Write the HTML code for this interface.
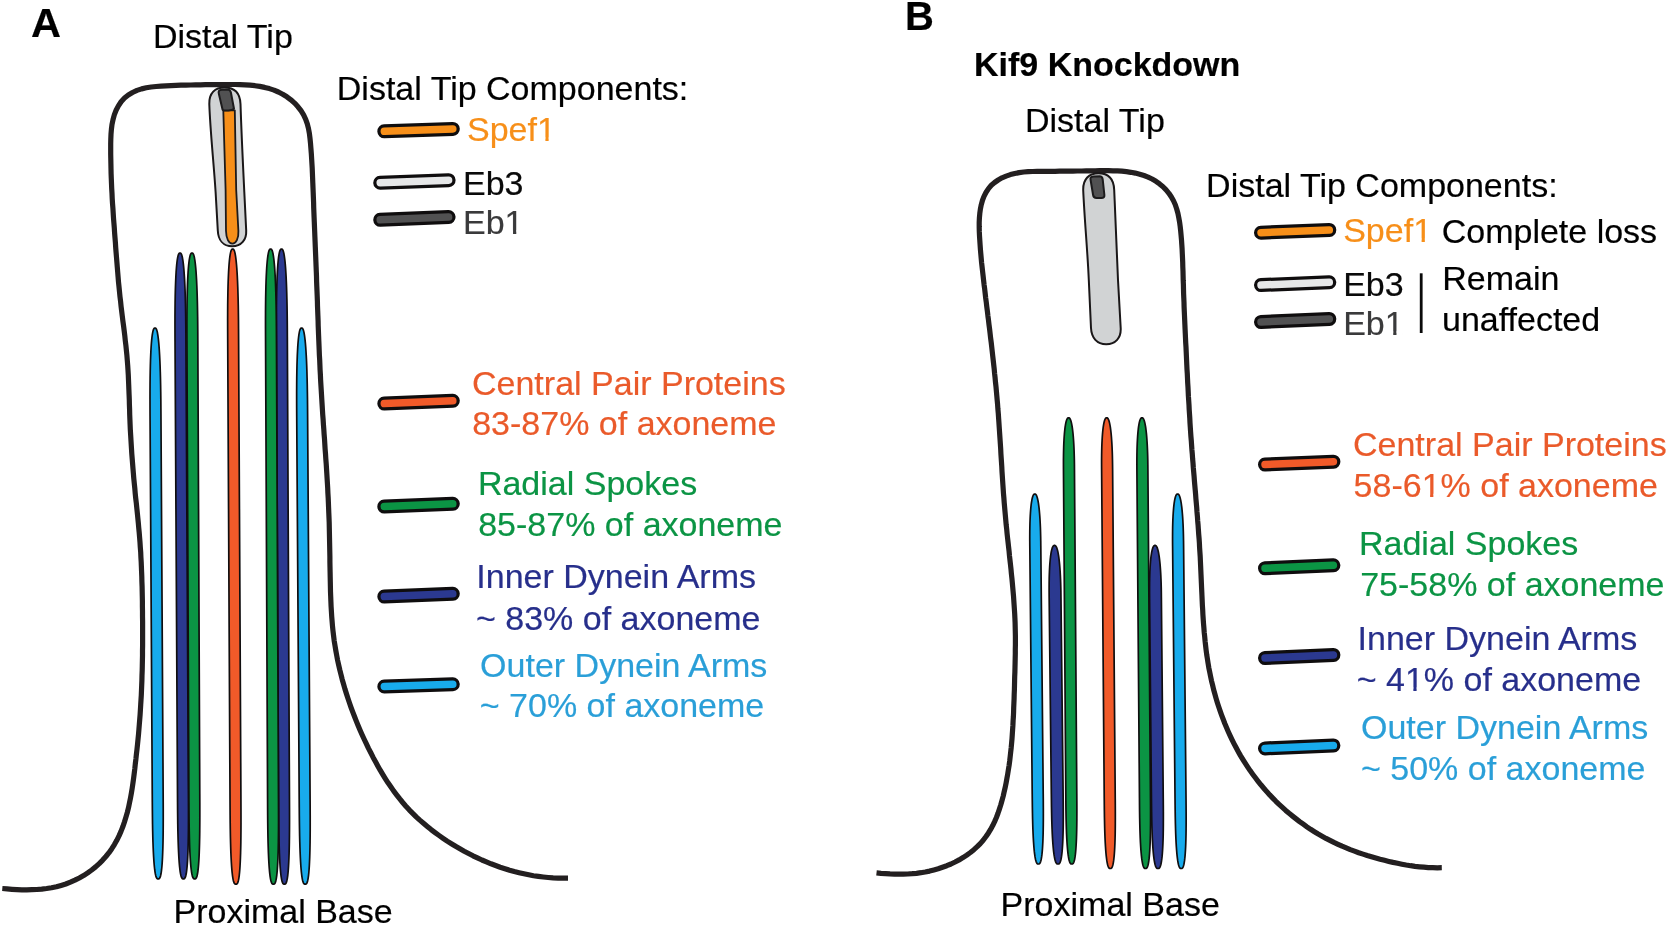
<!DOCTYPE html>
<html><head><meta charset="utf-8"><title>Figure</title>
<style>
html,body{margin:0;padding:0;background:#fff;}
body{width:1671px;height:930px;overflow:hidden;}
svg{display:block;}
text{font-family:"Liberation Sans",sans-serif;}
</style></head>
<body>
<svg width="1671" height="930" viewBox="0 0 1671 930">
<rect width="1671" height="930" fill="#ffffff"/>
<defs><filter id="idf" filterUnits="userSpaceOnUse" x="0" y="0" width="1671" height="930" color-interpolation-filters="sRGB"><feOffset dx="0" dy="0"/></filter></defs>
<g filter="url(#idf)">
<path d="M2.3,888.5 L7.1,888.9 L12.0,889.3 L16.9,889.6 L21.9,889.8 L26.8,889.8 L31.8,889.7 L36.8,889.5 L41.7,889.1 L46.6,888.5 L51.5,887.7 L56.4,886.7 L61.1,885.4 L65.8,884.0 L70.4,882.2 L74.9,880.2 L79.3,878.0 L83.6,875.6 L87.7,872.9 L91.7,870.0 L95.6,866.9 L99.2,863.6 L102.7,860.1 L105.9,856.5 L109.0,852.7 L111.8,848.7 L114.4,844.6 L116.8,840.3 L119.0,835.9 L121.0,831.4 L122.8,826.8 L124.4,822.1 L125.9,817.3 L127.3,812.5 L128.5,807.7 L129.5,802.8 L130.5,797.9 L131.4,793.0 L132.2,788.1 L132.9,783.3 L133.6,778.4 L134.2,773.6 L134.8,768.8 L135.3,763.9 L135.9,759.1 L136.4,754.2 L137.0,749.3 L137.5,744.4 L138.0,739.4 L138.5,734.5 L138.9,729.6 L139.3,724.6 L139.7,719.7 L140.1,714.8 L140.4,709.9 L140.7,704.9 L141.0,700.0 L141.3,695.1 L141.5,690.1 L141.7,685.2 L141.9,680.3 L142.0,675.4 L142.2,670.4 L142.3,665.5 L142.4,660.6 L142.5,655.7 L142.5,650.7 L142.6,645.8 L142.6,640.9 L142.6,636.0 L142.6,631.0 L142.6,626.1 L142.6,621.2 L142.5,616.2 L142.5,611.3 L142.4,606.4 L142.4,601.4 L142.3,596.5 L142.2,591.6 L142.1,586.6 L141.9,581.7 L141.8,576.8 L141.6,571.8 L141.4,566.9 L141.2,562.0 L140.9,557.1 L140.7,552.1 L140.3,547.2 L140.0,542.3 L139.6,537.4 L139.2,532.5 L138.7,527.6 L138.3,522.7 L137.8,517.7 L137.3,512.8 L136.8,507.9 L136.3,503.0 L135.7,498.1 L135.2,493.2 L134.8,488.3 L134.3,483.4 L133.8,478.5 L133.4,473.6 L133.0,468.7 L132.6,463.8 L132.2,458.8 L131.8,453.9 L131.5,449.0 L131.2,444.1 L130.9,439.2 L130.6,434.2 L130.3,429.3 L130.1,424.4 L129.9,419.4 L129.7,414.5 L129.6,409.6 L129.4,404.7 L129.3,399.7 L129.1,394.8 L128.9,389.9 L128.7,384.9 L128.5,380.0 L128.3,375.1 L128.0,370.2 L127.7,365.3 L127.3,360.4 L126.9,355.4 L126.4,350.5 L125.9,345.6 L125.3,340.7 L124.8,335.8 L124.2,330.9 L123.6,326.1 L122.9,321.2 L122.3,316.3 L121.7,311.4 L121.1,306.5 L120.6,301.6 L120.0,296.7 L119.5,291.8 L119.0,286.8 L118.5,281.9 L118.1,277.0 L117.7,272.1 L117.3,267.2 L116.9,262.3 L116.5,257.4 L116.1,252.5 L115.7,247.5 L115.4,242.6 L115.0,237.7 L114.6,232.8 L114.3,227.9 L113.9,222.9 L113.5,218.0 L113.2,213.1 L112.9,208.2 L112.5,203.3 L112.2,198.3 L112.0,193.4 L111.7,188.5 L111.5,183.6 L111.3,178.6 L111.1,173.7 L111.0,168.8 L110.9,163.8 L110.8,158.9 L110.7,154.0 L110.7,149.0 L110.7,144.1 L110.8,139.2 L111.0,134.3 L111.4,129.4 L112.0,124.5 L113.0,119.7 L114.3,114.9 L116.1,110.3 L118.4,105.9 L121.1,101.8 L124.5,98.1 L128.3,95.0 L132.5,92.5 L137.0,90.4 L141.6,88.9 L146.3,87.8 L151.2,87.0 L156.1,86.5 L161.1,86.1 L166.0,85.8 L171.0,85.6 L176.0,85.4 L180.9,85.2 L185.9,85.1 L190.8,85.0 L195.7,84.9 L200.6,84.8 L205.4,84.7 L210.3,84.7 L215.2,84.6 L220.1,84.6 L225.0,84.5 L230.0,84.5 L235.0,84.5 L240.0,84.6 L245.1,84.8 L250.0,85.2 L255.0,85.7 L259.8,86.4 L264.6,87.4 L269.4,88.6 L274.0,90.1 L278.4,92.0 L282.7,94.2 L286.9,96.8 L290.9,99.8 L294.6,103.1 L298.0,106.8 L301.0,110.7 L303.6,114.9 L305.7,119.3 L307.3,123.9 L308.5,128.6 L309.4,133.5 L310.0,138.4 L310.5,143.3 L310.9,148.3 L311.3,153.3 L311.6,158.2 L311.9,163.1 L312.2,168.1 L312.4,173.0 L312.6,177.9 L312.8,182.8 L313.0,187.8 L313.2,192.7 L313.4,197.6 L313.6,202.5 L313.7,207.4 L313.9,212.3 L314.1,217.3 L314.3,222.2 L314.5,227.1 L314.7,232.0 L314.9,237.0 L315.1,241.9 L315.3,246.8 L315.5,251.8 L315.7,256.7 L315.9,261.6 L316.1,266.6 L316.3,271.5 L316.5,276.4 L316.6,281.4 L316.8,286.3 L317.0,291.2 L317.2,296.1 L317.4,301.1 L317.5,306.0 L317.7,310.9 L317.9,315.9 L318.1,320.8 L318.2,325.7 L318.4,330.6 L318.6,335.6 L318.8,340.5 L319.0,345.4 L319.2,350.3 L319.4,355.3 L319.7,360.2 L319.9,365.1 L320.1,370.0 L320.4,375.0 L320.6,379.9 L320.9,384.8 L321.2,389.7 L321.5,394.7 L321.8,399.6 L322.1,404.5 L322.4,409.4 L322.7,414.3 L323.1,419.3 L323.4,424.2 L323.8,429.1 L324.1,434.0 L324.5,438.9 L324.8,443.9 L325.1,448.8 L325.5,453.7 L325.8,458.6 L326.2,463.6 L326.5,468.5 L326.8,473.4 L327.1,478.3 L327.4,483.2 L327.7,488.2 L327.9,493.1 L328.2,498.0 L328.4,502.9 L328.6,507.9 L328.8,512.8 L329.0,517.7 L329.2,522.6 L329.3,527.6 L329.4,532.5 L329.5,537.4 L329.6,542.4 L329.7,547.3 L329.8,552.2 L329.9,557.2 L329.9,562.1 L330.0,567.0 L330.1,571.9 L330.2,576.9 L330.3,581.8 L330.4,586.8 L330.5,591.7 L330.7,596.6 L330.9,601.6 L331.1,606.5 L331.4,611.4 L331.7,616.3 L332.1,621.2 L332.5,626.1 L333.0,631.0 L333.6,635.9 L334.2,640.8 L335.0,645.7 L335.8,650.5 L336.7,655.4 L337.6,660.2 L338.7,665.1 L339.8,669.9 L341.0,674.6 L342.2,679.4 L343.6,684.2 L344.9,688.9 L346.4,693.6 L347.9,698.3 L349.5,703.0 L351.1,707.6 L352.8,712.2 L354.6,716.8 L356.4,721.4 L358.3,726.0 L360.2,730.5 L362.2,735.0 L364.3,739.5 L366.4,743.9 L368.5,748.4 L370.8,752.8 L373.0,757.2 L375.4,761.5 L377.8,765.9 L380.2,770.2 L382.7,774.4 L385.3,778.6 L388.0,782.8 L390.8,786.8 L393.6,790.9 L396.6,794.8 L399.6,798.7 L402.7,802.5 L405.9,806.2 L409.2,809.8 L412.7,813.3 L416.2,816.8 L419.8,820.1 L423.5,823.3 L427.3,826.5 L431.1,829.6 L435.1,832.6 L439.1,835.5 L443.1,838.3 L447.2,841.1 L451.4,843.7 L455.6,846.3 L459.9,848.8 L464.2,851.2 L468.6,853.5 L473.0,855.8 L477.4,857.9 L481.9,860.0 L486.4,861.9 L491.0,863.8 L495.6,865.5 L500.2,867.2 L504.9,868.7 L509.6,870.2 L514.3,871.5 L519.1,872.7 L523.9,873.8 L528.7,874.8 L533.5,875.7 L538.4,876.4 L543.3,877.0 L548.2,877.5 L553.1,877.9 L558.1,878.1 L563.0,878.2 L568.0,878.2" fill="none" stroke="#231f20" stroke-width="5.2" stroke-linecap="butt" stroke-linejoin="round"/>
<path d="M155.00,328.00 L154.48,328.10 L154.05,328.45 L153.65,329.10 L153.27,330.07 L152.91,331.38 L152.57,333.05 L152.24,335.09 L151.93,337.50 L151.64,340.32 L151.37,343.53 L151.12,347.15 L150.89,351.19 L150.69,355.66 L150.50,360.56 L150.35,365.89 L150.22,371.67 L150.12,377.90 L150.05,384.59 L150.01,391.74 L150.00,399.35 L150.02,407.44 L150.06,416.00 L152.26,793.90 L152.31,802.17 L152.37,809.98 L152.45,817.33 L152.54,824.24 L152.66,830.70 L152.80,836.72 L152.97,842.30 L153.16,847.45 L153.37,852.18 L153.60,856.50 L153.85,860.40 L154.12,863.90 L154.41,867.00 L154.71,869.72 L155.04,872.06 L155.39,874.02 L155.75,875.64 L156.14,876.90 L156.56,877.84 L157.00,878.47 L157.51,878.81 L158.20,878.90 L158.89,878.81 L159.39,878.47 L159.83,877.84 L160.24,876.90 L160.61,875.64 L160.96,874.02 L161.28,872.06 L161.58,869.72 L161.86,867.00 L162.11,863.90 L162.34,860.40 L162.54,856.50 L162.72,852.18 L162.88,847.45 L163.01,842.30 L163.10,836.72 L163.18,830.70 L163.22,824.24 L163.24,817.33 L163.23,809.98 L163.20,802.17 L163.16,793.90 L160.96,416.00 L160.90,407.44 L160.83,399.35 L160.73,391.74 L160.61,384.59 L160.46,377.90 L160.29,371.67 L160.09,365.89 L159.87,360.56 L159.63,355.66 L159.38,351.19 L159.10,347.15 L158.81,343.53 L158.50,340.32 L158.18,337.50 L157.84,335.09 L157.49,333.05 L157.13,331.38 L156.75,330.07 L156.36,329.10 L155.95,328.45 L155.52,328.10Z" fill="#18abec" stroke="#100e0f" stroke-width="1.7" stroke-linejoin="round"/>
<path d="M301.60,328.00 L301.08,328.10 L300.65,328.45 L300.25,329.10 L299.87,330.07 L299.51,331.38 L299.17,333.05 L298.85,335.09 L298.54,337.50 L298.25,340.32 L297.98,343.53 L297.73,347.15 L297.51,351.19 L297.30,355.66 L297.13,360.56 L296.97,365.89 L296.85,371.67 L296.75,377.90 L296.69,384.59 L296.65,391.74 L296.65,399.35 L296.67,407.44 L296.72,416.00 L299.20,799.20 L299.26,807.47 L299.32,815.28 L299.40,822.63 L299.51,829.54 L299.63,836.00 L299.78,842.02 L299.95,847.60 L300.14,852.75 L300.35,857.48 L300.58,861.80 L300.83,865.70 L301.11,869.20 L301.40,872.30 L301.71,875.02 L302.04,877.36 L302.38,879.32 L302.75,880.94 L303.14,882.20 L303.55,883.14 L304.00,883.77 L304.51,884.11 L305.20,884.20 L305.89,884.11 L306.39,883.77 L306.83,883.14 L307.23,882.20 L307.61,880.94 L307.95,879.32 L308.27,877.36 L308.57,875.02 L308.85,872.30 L309.10,869.20 L309.33,865.70 L309.53,861.80 L309.71,857.48 L309.86,852.75 L309.98,847.60 L310.08,842.02 L310.15,836.00 L310.19,829.54 L310.20,822.63 L310.19,815.28 L310.15,807.47 L310.10,799.20 L307.62,416.00 L307.56,407.44 L307.48,399.35 L307.37,391.74 L307.25,384.59 L307.09,377.90 L306.92,371.67 L306.72,365.89 L306.50,360.56 L306.25,355.66 L305.99,351.19 L305.71,347.15 L305.42,343.53 L305.11,340.32 L304.78,337.50 L304.45,335.09 L304.10,333.05 L303.73,331.38 L303.36,330.07 L302.96,329.10 L302.55,328.45 L302.12,328.10Z" fill="#18abec" stroke="#100e0f" stroke-width="1.7" stroke-linejoin="round"/>
<path d="M180.00,253.00 L179.48,253.10 L179.05,253.45 L178.65,254.10 L178.27,255.07 L177.91,256.38 L177.56,258.05 L177.24,260.09 L176.93,262.50 L176.64,265.32 L176.37,268.53 L176.11,272.15 L175.88,276.19 L175.68,280.66 L175.49,285.56 L175.33,290.89 L175.20,296.67 L175.10,302.90 L175.03,309.59 L174.98,316.74 L174.97,324.35 L174.99,332.44 L175.03,341.00 L177.49,793.90 L177.54,802.17 L177.59,809.98 L177.67,817.33 L177.76,824.24 L177.88,830.70 L178.02,836.72 L178.18,842.30 L178.37,847.45 L178.58,852.18 L178.80,856.50 L179.05,860.40 L179.32,863.90 L179.61,867.00 L179.92,869.72 L180.24,872.06 L180.59,874.02 L180.95,875.64 L181.34,876.90 L181.76,877.84 L182.20,878.47 L182.71,878.81 L183.40,878.90 L184.09,878.81 L184.59,878.47 L185.03,877.84 L185.44,876.90 L185.81,875.64 L186.16,874.02 L186.48,872.06 L186.78,869.72 L187.06,867.00 L187.31,863.90 L187.55,860.40 L187.75,856.50 L187.93,852.18 L188.09,847.45 L188.22,842.30 L188.32,836.72 L188.40,830.70 L188.44,824.24 L188.46,817.33 L188.46,809.98 L188.43,802.17 L188.39,793.90 L185.93,341.00 L185.88,332.44 L185.80,324.35 L185.71,316.74 L185.59,309.59 L185.44,302.90 L185.27,296.67 L185.08,290.89 L184.86,285.56 L184.62,280.66 L184.37,276.19 L184.09,272.15 L183.80,268.53 L183.50,265.32 L183.17,262.50 L182.84,260.09 L182.49,258.05 L182.13,256.38 L181.75,255.07 L181.36,254.10 L180.95,253.45 L180.52,253.10Z" fill="#2b3990" stroke="#100e0f" stroke-width="1.7" stroke-linejoin="round"/>
<path d="M192.00,253.00 L191.48,253.10 L191.05,253.45 L190.65,254.10 L190.27,255.07 L189.90,256.38 L189.56,258.05 L189.23,260.09 L188.92,262.50 L188.62,265.32 L188.35,268.53 L188.09,272.15 L187.86,276.19 L187.65,280.66 L187.46,285.56 L187.29,290.89 L187.15,296.67 L187.04,302.90 L186.96,309.59 L186.91,316.74 L186.89,324.35 L186.90,332.44 L186.93,341.00 L188.88,793.90 L188.92,802.17 L188.97,809.98 L189.04,817.33 L189.12,824.24 L189.23,830.70 L189.37,836.72 L189.52,842.30 L189.70,847.45 L189.91,852.18 L190.13,856.50 L190.37,860.40 L190.64,863.90 L190.92,867.00 L191.23,869.72 L191.55,872.06 L191.90,874.02 L192.26,875.64 L192.64,876.90 L193.06,877.84 L193.50,878.47 L194.01,878.81 L194.70,878.90 L195.39,878.81 L195.89,878.47 L196.33,877.84 L196.74,876.90 L197.11,875.64 L197.46,874.02 L197.79,872.06 L198.09,869.72 L198.37,867.00 L198.63,863.90 L198.87,860.40 L199.08,856.50 L199.26,852.18 L199.42,847.45 L199.56,842.30 L199.67,836.72 L199.75,830.70 L199.80,824.24 L199.83,817.33 L199.83,809.98 L199.82,802.17 L199.78,793.90 L197.83,341.00 L197.79,332.44 L197.72,324.35 L197.64,316.74 L197.52,309.59 L197.39,302.90 L197.22,296.67 L197.03,290.89 L196.82,285.56 L196.59,280.66 L196.34,276.19 L196.07,272.15 L195.79,268.53 L195.48,265.32 L195.16,262.50 L194.83,260.09 L194.48,258.05 L194.12,256.38 L193.75,255.07 L193.36,254.10 L192.95,253.45 L192.52,253.10Z" fill="#0b9444" stroke="#100e0f" stroke-width="1.7" stroke-linejoin="round"/>
<path d="M281.50,249.00 L280.98,249.10 L280.55,249.45 L280.15,250.10 L279.77,251.07 L279.41,252.38 L279.06,254.05 L278.73,256.09 L278.42,258.50 L278.13,261.32 L277.85,264.53 L277.60,268.15 L277.36,272.19 L277.15,276.66 L276.96,281.56 L276.80,286.89 L276.67,292.67 L276.56,298.90 L276.48,305.59 L276.43,312.74 L276.41,320.35 L276.42,328.44 L276.45,337.00 L278.56,799.20 L278.60,807.47 L278.65,815.28 L278.72,822.63 L278.81,829.54 L278.92,836.00 L279.06,842.02 L279.22,847.60 L279.40,852.75 L279.60,857.48 L279.82,861.80 L280.07,865.70 L280.34,869.20 L280.62,872.30 L280.93,875.02 L281.25,877.36 L281.59,879.32 L281.96,880.94 L282.34,882.20 L282.76,883.14 L283.20,883.77 L283.71,884.11 L284.40,884.20 L285.09,884.11 L285.59,883.77 L286.03,883.14 L286.44,882.20 L286.81,880.94 L287.16,879.32 L287.49,877.36 L287.79,875.02 L288.07,872.30 L288.33,869.20 L288.56,865.70 L288.77,861.80 L288.96,857.48 L289.12,852.75 L289.25,847.60 L289.36,842.02 L289.44,836.00 L289.49,829.54 L289.52,822.63 L289.52,815.28 L289.50,807.47 L289.46,799.20 L287.35,337.00 L287.31,328.44 L287.24,320.35 L287.15,312.74 L287.04,305.59 L286.90,298.90 L286.73,292.67 L286.54,286.89 L286.33,281.56 L286.10,276.66 L285.85,272.19 L285.58,268.15 L285.29,264.53 L284.99,261.32 L284.67,258.50 L284.33,256.09 L283.99,254.05 L283.63,252.38 L283.25,251.07 L282.86,250.10 L282.45,249.45 L282.02,249.10Z" fill="#2b3990" stroke="#100e0f" stroke-width="1.7" stroke-linejoin="round"/>
<path d="M270.60,249.00 L270.08,249.10 L269.65,249.45 L269.25,250.10 L268.87,251.07 L268.50,252.38 L268.16,254.05 L267.83,256.09 L267.52,258.50 L267.23,261.32 L266.95,264.53 L266.69,268.15 L266.46,272.19 L266.25,276.66 L266.06,281.56 L265.90,286.89 L265.76,292.67 L265.65,298.90 L265.57,305.59 L265.52,312.74 L265.50,320.35 L265.51,328.44 L265.54,337.00 L267.58,799.20 L267.61,807.47 L267.66,815.28 L267.73,822.63 L267.82,829.54 L267.93,836.00 L268.06,842.02 L268.22,847.60 L268.40,852.75 L268.60,857.48 L268.83,861.80 L269.07,865.70 L269.34,869.20 L269.62,872.30 L269.93,875.02 L270.25,877.36 L270.59,879.32 L270.96,880.94 L271.34,882.20 L271.76,883.14 L272.20,883.77 L272.71,884.11 L273.40,884.20 L274.09,884.11 L274.59,883.77 L275.03,883.14 L275.44,882.20 L275.81,880.94 L276.16,879.32 L276.49,877.36 L276.79,875.02 L277.07,872.30 L277.33,869.20 L277.56,865.70 L277.77,861.80 L277.96,857.48 L278.12,852.75 L278.26,847.60 L278.36,842.02 L278.44,836.00 L278.50,829.54 L278.53,822.63 L278.53,815.28 L278.51,807.47 L278.48,799.20 L276.44,337.00 L276.39,328.44 L276.33,320.35 L276.24,312.74 L276.13,305.59 L275.99,298.90 L275.83,292.67 L275.64,286.89 L275.43,281.56 L275.20,276.66 L274.94,272.19 L274.67,268.15 L274.39,264.53 L274.08,261.32 L273.76,258.50 L273.43,256.09 L273.09,254.05 L272.72,252.38 L272.35,251.07 L271.96,250.10 L271.55,249.45 L271.12,249.10Z" fill="#0b9444" stroke="#100e0f" stroke-width="1.7" stroke-linejoin="round"/>
<path d="M232.70,249.00 L232.18,249.10 L231.75,249.45 L231.35,250.10 L230.97,251.07 L230.61,252.38 L230.26,254.05 L229.94,256.09 L229.62,258.50 L229.33,261.32 L229.06,264.53 L228.81,268.15 L228.57,272.19 L228.37,276.66 L228.18,281.56 L228.02,286.89 L227.89,292.67 L227.78,298.90 L227.70,305.59 L227.66,312.74 L227.64,320.35 L227.66,328.44 L227.69,337.00 L230.02,799.20 L230.07,807.47 L230.12,815.28 L230.19,822.63 L230.29,829.54 L230.40,836.00 L230.54,842.02 L230.70,847.60 L230.88,852.75 L231.09,857.48 L231.31,861.80 L231.56,865.70 L231.83,869.20 L232.12,872.30 L232.42,875.02 L232.75,877.36 L233.09,879.32 L233.46,880.94 L233.84,882.20 L234.26,883.14 L234.70,883.77 L235.21,884.11 L235.90,884.20 L236.59,884.11 L237.09,883.77 L237.53,883.14 L237.94,882.20 L238.31,880.94 L238.66,879.32 L238.98,877.36 L239.29,875.02 L239.56,872.30 L239.82,869.20 L240.05,865.70 L240.26,861.80 L240.44,857.48 L240.60,852.75 L240.73,847.60 L240.84,842.02 L240.91,836.00 L240.96,829.54 L240.99,822.63 L240.98,815.28 L240.96,807.47 L240.92,799.20 L238.59,337.00 L238.54,328.44 L238.48,320.35 L238.38,312.74 L238.27,305.59 L238.12,298.90 L237.95,292.67 L237.76,286.89 L237.55,281.56 L237.31,276.66 L237.06,272.19 L236.79,268.15 L236.50,264.53 L236.19,261.32 L235.87,258.50 L235.54,256.09 L235.19,254.05 L234.83,252.38 L234.45,251.07 L234.06,250.10 L233.65,249.45 L233.22,249.10Z" fill="#f15a29" stroke="#100e0f" stroke-width="1.7" stroke-linejoin="round"/>
<path d="M209.3,104 C209,93 215,87.6 224.5,87.6 C234,87.6 240,93 240.5,104 C241.5,135 243,165 244.3,192 L246.2,230.5 C246.7,240 241.2,246.3 232.2,246.3 C223.2,246.3 218.2,240 217.8,230.5 L215.6,192 C213.5,160 210.3,132 209.3,104 Z" fill="#d1d3d4" stroke="#1a1718" stroke-width="2.0"/>
<path d="M223.3,110.3 L234.8,110.3 L236.2,190 L238.4,231 C238.8,238.5 236,243.6 232.4,243.6 C228.7,243.6 226.2,238.5 226,231 L225.6,190 Z" fill="#f78f19" stroke="#1d1a1b" stroke-width="1.8" stroke-linejoin="round"/>
<path d="M218.9,94 C218.0,91 219.1,89.9 221.8,89.7 L227.5,89.4 C229.6,89.4 230.4,90.3 230.9,92.5 L234,108.7 C232,110.6 225,111.2 222.6,109.8 Z" fill="#515152" stroke="#1c1b1c" stroke-width="2.0" stroke-linejoin="round"/>
<line x1="384.3" y1="131.3" x2="452.8" y2="128.9" stroke="#0f0d0e" stroke-width="14.0" stroke-linecap="round"/><line x1="384.3" y1="131.3" x2="452.8" y2="128.9" stroke="#f78f19" stroke-width="7.5" stroke-linecap="round"/>
<line x1="380.2" y1="182.7" x2="448.6" y2="180.2" stroke="#0f0d0e" stroke-width="14.0" stroke-linecap="round"/><line x1="380.2" y1="182.7" x2="448.6" y2="180.2" stroke="#e6e7e8" stroke-width="7.5" stroke-linecap="round"/>
<line x1="380.2" y1="219.8" x2="448.6" y2="217.1" stroke="#0f0d0e" stroke-width="14.0" stroke-linecap="round"/><line x1="380.2" y1="219.8" x2="448.6" y2="217.1" stroke="#515152" stroke-width="7.5" stroke-linecap="round"/>
<line x1="384.3" y1="403.5" x2="452.8" y2="400.8" stroke="#0f0d0e" stroke-width="14.0" stroke-linecap="round"/><line x1="384.3" y1="403.5" x2="452.8" y2="400.8" stroke="#f15a29" stroke-width="7.5" stroke-linecap="round"/>
<line x1="384.3" y1="506.5" x2="452.8" y2="503.8" stroke="#0f0d0e" stroke-width="14.0" stroke-linecap="round"/><line x1="384.3" y1="506.5" x2="452.8" y2="503.8" stroke="#0b9444" stroke-width="7.5" stroke-linecap="round"/>
<line x1="384.3" y1="596.5" x2="452.8" y2="593.8" stroke="#0f0d0e" stroke-width="14.0" stroke-linecap="round"/><line x1="384.3" y1="596.5" x2="452.8" y2="593.8" stroke="#2b3990" stroke-width="7.5" stroke-linecap="round"/>
<line x1="384.3" y1="686.5" x2="452.8" y2="684.3" stroke="#0f0d0e" stroke-width="14.0" stroke-linecap="round"/><line x1="384.3" y1="686.5" x2="452.8" y2="684.3" stroke="#18abec" stroke-width="7.5" stroke-linecap="round"/>
<text x="30.9" y="37.1" fill="#000" stroke="#000" stroke-width="0.2" font-weight="700" font-size="41.5">A</text>
<text x="153" y="48.3" fill="#000" stroke="#000" stroke-width="0.2" font-weight="400" font-size="34">Distal Tip</text>
<text x="336.8" y="100" fill="#000" stroke="#000" stroke-width="0.2" font-weight="400" font-size="34">Distal Tip Components:</text>
<text x="467" y="141" fill="#f78f19" stroke="#f78f19" stroke-width="0.2" font-weight="400" font-size="34">Spef1</text>
<text x="463" y="194.8" fill="#0a0a0a" stroke="#0a0a0a" stroke-width="0.2" font-weight="400" font-size="34">Eb3</text>
<text x="463" y="234" fill="#3a3a3b" stroke="#3a3a3b" stroke-width="0.2" font-weight="400" font-size="34">Eb1</text>
<text x="472" y="394.6" fill="#ea5a2a" stroke="#ea5a2a" stroke-width="0.2" font-weight="400" font-size="34">Central Pair Proteins</text>
<text x="472.2" y="435.4" fill="#ea5a2a" stroke="#ea5a2a" stroke-width="0.2" font-weight="400" font-size="34">83-87% of axoneme</text>
<text x="477.9" y="494.6" fill="#0b9444" stroke="#0b9444" stroke-width="0.2" font-weight="400" font-size="34">Radial Spokes</text>
<text x="478.2" y="535.6" fill="#0b9444" stroke="#0b9444" stroke-width="0.2" font-weight="400" font-size="34">85-87% of axoneme</text>
<text x="476.3" y="588.4" fill="#272f8b" stroke="#272f8b" stroke-width="0.2" font-weight="400" font-size="34">Inner Dynein Arms</text>
<text x="476" y="629.5" fill="#272f8b" stroke="#272f8b" stroke-width="0.2" font-weight="400" font-size="34">~ 83% of axoneme</text>
<text x="480.1" y="676.7" fill="#2a9fd8" stroke="#2a9fd8" stroke-width="0.2" font-weight="400" font-size="34">Outer Dynein Arms</text>
<text x="479.8" y="717.1" fill="#2a9fd8" stroke="#2a9fd8" stroke-width="0.2" font-weight="400" font-size="34">~ 70% of axoneme</text>
<text x="173.5" y="922.6" fill="#000" stroke="#000" stroke-width="0.2" font-weight="400" font-size="34">Proximal Base</text>
<path d="M876.5,872.8 L881.0,873.3 L885.5,873.6 L890.0,873.9 L894.5,874.1 L898.9,874.2 L903.3,874.1 L907.7,874.0 L912.1,873.7 L916.5,873.3 L920.9,872.7 L925.2,872.0 L929.6,871.1 L933.9,870.0 L938.2,868.8 L942.5,867.3 L946.8,865.7 L951.0,864.0 L955.1,862.0 L959.1,859.9 L963.0,857.6 L966.8,855.1 L970.4,852.5 L973.9,849.7 L977.2,846.7 L980.3,843.6 L983.2,840.3 L985.8,836.8 L988.3,833.2 L990.6,829.4 L992.7,825.6 L994.6,821.6 L996.4,817.5 L998.0,813.3 L999.4,809.1 L1000.8,804.8 L1002.0,800.5 L1003.2,796.1 L1004.2,791.7 L1005.2,787.3 L1006.1,782.9 L1006.9,778.5 L1007.7,774.1 L1008.4,769.7 L1009.1,765.3 L1009.7,760.9 L1010.2,756.5 L1010.7,752.0 L1011.2,747.6 L1011.6,743.2 L1012.0,738.7 L1012.3,734.3 L1012.6,729.8 L1012.9,725.4 L1013.1,720.9 L1013.4,716.5 L1013.6,712.0 L1013.7,707.6 L1013.9,703.1 L1014.1,698.6 L1014.2,694.2 L1014.4,689.7 L1014.5,685.2 L1014.6,680.8 L1014.7,676.3 L1014.9,671.8 L1015.0,667.3 L1015.1,662.9 L1015.2,658.4 L1015.3,653.9 L1015.3,649.5 L1015.4,645.0 L1015.4,640.5 L1015.4,636.1 L1015.3,631.6 L1015.2,627.1 L1015.1,622.7 L1014.9,618.2 L1014.7,613.8 L1014.4,609.3 L1014.1,604.8 L1013.8,600.4 L1013.5,595.9 L1013.1,591.5 L1012.7,587.1 L1012.3,582.6 L1011.9,578.2 L1011.4,573.7 L1011.0,569.3 L1010.5,564.8 L1010.0,560.4 L1009.5,556.0 L1009.1,551.5 L1008.6,547.1 L1008.1,542.6 L1007.6,538.2 L1007.1,533.7 L1006.7,529.3 L1006.2,524.9 L1005.8,520.4 L1005.4,516.0 L1005.0,511.5 L1004.6,507.1 L1004.2,502.6 L1003.9,498.2 L1003.5,493.7 L1003.2,489.3 L1002.9,484.8 L1002.6,480.4 L1002.3,475.9 L1002.0,471.4 L1001.8,467.0 L1001.5,462.5 L1001.2,458.1 L1000.9,453.6 L1000.7,449.2 L1000.4,444.7 L1000.1,440.2 L999.8,435.8 L999.5,431.3 L999.2,426.9 L998.9,422.4 L998.6,418.0 L998.3,413.5 L997.9,409.1 L997.6,404.6 L997.2,400.2 L996.8,395.7 L996.4,391.3 L996.0,386.8 L995.5,382.4 L995.1,377.9 L994.6,373.5 L994.2,369.0 L993.7,364.6 L993.2,360.1 L992.7,355.7 L992.2,351.3 L991.7,346.8 L991.2,342.4 L990.6,337.9 L990.1,333.5 L989.6,329.1 L989.0,324.6 L988.5,320.2 L987.9,315.8 L987.4,311.4 L986.8,306.9 L986.3,302.5 L985.7,298.1 L985.2,293.6 L984.7,289.2 L984.1,284.8 L983.6,280.4 L983.1,275.9 L982.6,271.5 L982.1,267.1 L981.6,262.7 L981.2,258.2 L980.8,253.8 L980.4,249.3 L980.1,244.8 L979.8,240.4 L979.5,235.9 L979.3,231.4 L979.2,226.9 L979.2,222.4 L979.4,217.9 L979.8,213.4 L980.4,209.0 L981.3,204.6 L982.5,200.2 L984.1,196.1 L986.1,192.2 L988.5,188.6 L991.3,185.3 L994.6,182.5 L998.2,180.0 L1002.0,177.8 L1006.1,176.1 L1010.4,174.6 L1014.8,173.5 L1019.2,172.6 L1023.7,172.0 L1028.2,171.7 L1032.6,171.5 L1037.1,171.4 L1041.6,171.3 L1046.1,171.3 L1050.6,171.3 L1055.0,171.3 L1059.5,171.2 L1064.0,171.2 L1068.4,171.1 L1072.9,171.1 L1077.3,171.0 L1081.8,171.0 L1086.2,170.9 L1090.7,170.9 L1095.1,170.8 L1099.6,170.7 L1104.1,170.7 L1108.5,170.7 L1113.0,170.8 L1117.4,170.9 L1121.9,171.2 L1126.4,171.7 L1130.8,172.3 L1135.3,173.1 L1139.7,174.2 L1144.0,175.5 L1148.1,177.1 L1152.1,179.0 L1156.0,181.3 L1159.6,183.9 L1163.0,186.7 L1166.1,189.9 L1168.9,193.3 L1171.4,197.0 L1173.5,200.8 L1175.3,204.8 L1176.7,209.0 L1177.9,213.3 L1178.8,217.7 L1179.6,222.2 L1180.2,226.6 L1180.7,231.1 L1181.1,235.6 L1181.5,240.1 L1181.8,244.5 L1182.1,249.0 L1182.3,253.5 L1182.5,257.9 L1182.7,262.4 L1182.8,266.8 L1183.0,271.3 L1183.1,275.7 L1183.2,280.2 L1183.4,284.6 L1183.5,289.1 L1183.6,293.6 L1183.8,298.0 L1184.0,302.5 L1184.1,306.9 L1184.3,311.4 L1184.5,315.9 L1184.7,320.3 L1184.9,324.8 L1185.1,329.3 L1185.3,333.7 L1185.5,338.2 L1185.7,342.6 L1186.0,347.1 L1186.2,351.6 L1186.4,356.0 L1186.6,360.5 L1186.8,365.0 L1187.0,369.4 L1187.3,373.9 L1187.5,378.4 L1187.7,382.8 L1188.0,387.3 L1188.2,391.7 L1188.4,396.2 L1188.7,400.7 L1189.0,405.1 L1189.2,409.6 L1189.5,414.0 L1189.8,418.5 L1190.0,422.9 L1190.3,427.4 L1190.6,431.9 L1190.9,436.3 L1191.3,440.8 L1191.6,445.2 L1191.9,449.7 L1192.3,454.1 L1192.6,458.6 L1193.0,463.0 L1193.3,467.5 L1193.7,471.9 L1194.1,476.4 L1194.4,480.8 L1194.8,485.3 L1195.2,489.7 L1195.6,494.2 L1195.9,498.6 L1196.3,503.1 L1196.7,507.5 L1197.0,512.0 L1197.4,516.4 L1197.7,520.9 L1198.1,525.3 L1198.4,529.8 L1198.7,534.2 L1199.1,538.7 L1199.4,543.1 L1199.6,547.6 L1199.9,552.1 L1200.2,556.5 L1200.4,561.0 L1200.6,565.4 L1200.8,569.9 L1201.0,574.4 L1201.2,578.8 L1201.4,583.3 L1201.6,587.8 L1201.8,592.2 L1202.0,596.7 L1202.2,601.2 L1202.4,605.6 L1202.7,610.1 L1202.9,614.5 L1203.2,619.0 L1203.5,623.4 L1203.9,627.9 L1204.2,632.3 L1204.7,636.8 L1205.1,641.2 L1205.6,645.6 L1206.1,650.0 L1206.7,654.5 L1207.4,658.9 L1208.1,663.3 L1208.8,667.7 L1209.7,672.0 L1210.6,676.4 L1211.5,680.8 L1212.6,685.1 L1213.6,689.5 L1214.8,693.8 L1216.0,698.1 L1217.3,702.4 L1218.7,706.7 L1220.1,710.9 L1221.6,715.1 L1223.2,719.3 L1224.8,723.5 L1226.5,727.6 L1228.3,731.7 L1230.2,735.8 L1232.1,739.8 L1234.1,743.8 L1236.2,747.8 L1238.3,751.7 L1240.5,755.6 L1242.8,759.4 L1245.2,763.2 L1247.6,766.9 L1250.1,770.6 L1252.7,774.2 L1255.4,777.8 L1258.1,781.3 L1260.9,784.8 L1263.8,788.2 L1266.7,791.6 L1269.7,794.9 L1272.8,798.1 L1275.9,801.3 L1279.1,804.4 L1282.4,807.4 L1285.7,810.4 L1289.1,813.3 L1292.6,816.1 L1296.1,818.9 L1299.6,821.6 L1303.3,824.2 L1306.9,826.8 L1310.6,829.3 L1314.4,831.7 L1318.2,834.0 L1322.1,836.2 L1326.0,838.4 L1329.9,840.4 L1333.9,842.4 L1338.0,844.3 L1342.1,846.2 L1346.2,847.9 L1350.3,849.6 L1354.5,851.1 L1358.7,852.7 L1363.0,854.1 L1367.2,855.5 L1371.5,856.8 L1375.8,858.0 L1380.1,859.2 L1384.5,860.3 L1388.8,861.4 L1393.1,862.4 L1397.5,863.3 L1401.9,864.2 L1406.2,865.0 L1410.6,865.7 L1415.0,866.3 L1419.5,866.8 L1423.9,867.2 L1428.3,867.6 L1432.8,867.7 L1437.3,867.8 L1441.8,867.7" fill="none" stroke="#231f20" stroke-width="5.2" stroke-linecap="butt" stroke-linejoin="round"/>
<path d="M1034.80,494.00 L1034.39,494.06 L1034.01,494.27 L1033.64,494.65 L1033.28,495.22 L1032.93,496.00 L1032.59,496.98 L1032.26,498.19 L1031.95,499.62 L1031.65,501.28 L1031.36,503.18 L1031.09,505.32 L1030.85,507.70 L1030.62,510.34 L1030.41,513.24 L1030.23,516.39 L1030.08,519.81 L1029.95,523.49 L1029.86,527.44 L1029.79,531.66 L1029.76,536.16 L1029.77,540.94 L1029.81,546.00 L1032.22,794.00 L1032.29,800.81 L1032.37,807.24 L1032.47,813.30 L1032.59,818.98 L1032.73,824.30 L1032.90,829.26 L1033.09,833.86 L1033.30,838.10 L1033.53,842.00 L1033.78,845.55 L1034.05,848.77 L1034.33,851.65 L1034.64,854.20 L1034.96,856.44 L1035.30,858.36 L1035.65,859.98 L1036.03,861.31 L1036.42,862.35 L1036.83,863.13 L1037.27,863.64 L1037.76,863.92 L1038.40,864.00 L1039.04,863.92 L1039.52,863.64 L1039.95,863.13 L1040.35,862.35 L1040.72,861.31 L1041.07,859.98 L1041.39,858.36 L1041.69,856.44 L1041.97,854.20 L1042.23,851.65 L1042.46,848.77 L1042.66,845.55 L1042.85,842.00 L1043.00,838.10 L1043.13,833.86 L1043.22,829.26 L1043.29,824.30 L1043.33,818.98 L1043.34,813.30 L1043.32,807.24 L1043.28,800.81 L1043.22,794.00 L1040.81,546.00 L1040.75,540.94 L1040.66,536.16 L1040.54,531.66 L1040.40,527.44 L1040.22,523.49 L1040.02,519.81 L1039.80,516.39 L1039.56,513.24 L1039.30,510.34 L1039.02,507.70 L1038.73,505.32 L1038.42,503.18 L1038.10,501.28 L1037.76,499.62 L1037.42,498.19 L1037.07,496.98 L1036.71,496.00 L1036.35,495.22 L1035.98,494.65 L1035.60,494.27 L1035.21,494.06Z" fill="#18abec" stroke="#100e0f" stroke-width="1.7" stroke-linejoin="round"/>
<path d="M1177.60,494.00 L1177.19,494.06 L1176.81,494.27 L1176.44,494.65 L1176.08,495.22 L1175.73,496.00 L1175.39,496.98 L1175.06,498.19 L1174.74,499.62 L1174.44,501.28 L1174.16,503.18 L1173.89,505.32 L1173.64,507.70 L1173.42,510.34 L1173.21,513.24 L1173.03,516.39 L1172.87,519.81 L1172.75,523.49 L1172.65,527.44 L1172.59,531.66 L1172.56,536.16 L1172.56,540.94 L1172.60,546.00 L1175.03,798.50 L1175.10,805.31 L1175.18,811.74 L1175.28,817.80 L1175.40,823.48 L1175.54,828.80 L1175.70,833.76 L1175.89,838.36 L1176.10,842.60 L1176.33,846.50 L1176.58,850.05 L1176.85,853.27 L1177.14,856.15 L1177.44,858.70 L1177.76,860.94 L1178.10,862.86 L1178.45,864.48 L1178.83,865.81 L1179.22,866.85 L1179.63,867.63 L1180.07,868.14 L1180.56,868.42 L1181.20,868.50 L1181.84,868.42 L1182.32,868.14 L1182.75,867.63 L1183.15,866.85 L1183.52,865.81 L1183.87,864.48 L1184.19,862.86 L1184.49,860.94 L1184.77,858.70 L1185.03,856.15 L1185.26,853.27 L1185.47,850.05 L1185.65,846.50 L1185.80,842.60 L1185.93,838.36 L1186.03,833.76 L1186.10,828.80 L1186.14,823.48 L1186.15,817.80 L1186.13,811.74 L1186.09,805.31 L1186.03,798.50 L1183.60,546.00 L1183.54,540.94 L1183.45,536.16 L1183.34,531.66 L1183.19,527.44 L1183.02,523.49 L1182.82,519.81 L1182.60,516.39 L1182.36,513.24 L1182.10,510.34 L1181.82,507.70 L1181.52,505.32 L1181.22,503.18 L1180.90,501.28 L1180.56,499.62 L1180.22,498.19 L1179.87,496.98 L1179.51,496.00 L1179.15,495.22 L1178.78,494.65 L1178.40,494.27 L1178.01,494.06Z" fill="#18abec" stroke="#100e0f" stroke-width="1.7" stroke-linejoin="round"/>
<path d="M1054.50,545.40 L1054.06,545.46 L1053.65,545.67 L1053.25,546.05 L1052.87,546.62 L1052.49,547.40 L1052.13,548.38 L1051.78,549.59 L1051.44,551.02 L1051.12,552.68 L1050.82,554.58 L1050.53,556.72 L1050.27,559.10 L1050.02,561.74 L1049.80,564.64 L1049.61,567.79 L1049.45,571.21 L1049.31,574.89 L1049.21,578.84 L1049.15,583.06 L1049.12,587.56 L1049.13,592.34 L1049.17,597.40 L1051.33,794.00 L1051.41,800.81 L1051.50,807.24 L1051.61,813.30 L1051.74,818.98 L1051.90,824.30 L1052.08,829.26 L1052.28,833.86 L1052.51,838.10 L1052.76,842.00 L1053.03,845.55 L1053.32,848.77 L1053.63,851.65 L1053.96,854.20 L1054.31,856.44 L1054.67,858.36 L1055.05,859.98 L1055.45,861.31 L1055.87,862.35 L1056.32,863.13 L1056.79,863.64 L1057.31,863.92 L1058.00,864.00 L1058.69,863.92 L1059.20,863.64 L1059.66,863.13 L1060.09,862.35 L1060.49,861.31 L1060.86,859.98 L1061.21,858.36 L1061.53,856.44 L1061.82,854.20 L1062.10,851.65 L1062.34,848.77 L1062.56,845.55 L1062.76,842.00 L1062.92,838.10 L1063.05,833.86 L1063.16,829.26 L1063.23,824.30 L1063.27,818.98 L1063.27,813.30 L1063.25,807.24 L1063.20,800.81 L1063.13,794.00 L1060.97,597.40 L1060.90,592.34 L1060.81,587.56 L1060.68,583.06 L1060.52,578.84 L1060.33,574.89 L1060.12,571.21 L1059.88,567.79 L1059.62,564.64 L1059.34,561.74 L1059.04,559.10 L1058.72,556.72 L1058.39,554.58 L1058.04,552.68 L1057.68,551.02 L1057.32,549.59 L1056.94,548.38 L1056.55,547.40 L1056.16,546.62 L1055.76,546.05 L1055.36,545.67 L1054.94,545.46Z" fill="#2b3990" stroke="#100e0f" stroke-width="1.7" stroke-linejoin="round"/>
<path d="M1068.60,417.80 L1068.19,417.86 L1067.81,418.07 L1067.43,418.45 L1067.07,419.02 L1066.72,419.80 L1066.38,420.78 L1066.05,421.99 L1065.73,423.42 L1065.43,425.08 L1065.14,426.98 L1064.87,429.12 L1064.61,431.50 L1064.38,434.14 L1064.16,437.04 L1063.97,440.19 L1063.81,443.61 L1063.68,447.29 L1063.57,451.24 L1063.50,455.46 L1063.45,459.96 L1063.45,464.74 L1063.47,469.80 L1065.80,794.00 L1065.85,800.81 L1065.92,807.24 L1066.00,813.30 L1066.11,818.98 L1066.24,824.30 L1066.39,829.26 L1066.56,833.86 L1066.76,838.10 L1066.98,842.00 L1067.22,845.55 L1067.49,848.77 L1067.77,851.65 L1068.06,854.20 L1068.38,856.44 L1068.71,858.36 L1069.06,859.98 L1069.43,861.31 L1069.82,862.35 L1070.23,863.13 L1070.67,863.64 L1071.16,863.92 L1071.80,864.00 L1072.44,863.92 L1072.92,863.64 L1073.35,863.13 L1073.75,862.35 L1074.13,861.31 L1074.48,859.98 L1074.81,858.36 L1075.11,856.44 L1075.40,854.20 L1075.66,851.65 L1075.90,848.77 L1076.11,845.55 L1076.30,842.00 L1076.47,838.10 L1076.60,833.86 L1076.71,829.26 L1076.80,824.30 L1076.85,818.98 L1076.87,813.30 L1076.87,807.24 L1076.84,800.81 L1076.80,794.00 L1074.47,469.80 L1074.43,464.74 L1074.35,459.96 L1074.24,455.46 L1074.11,451.24 L1073.95,447.29 L1073.76,443.61 L1073.55,440.19 L1073.31,437.04 L1073.06,434.14 L1072.79,431.50 L1072.50,429.12 L1072.19,426.98 L1071.88,425.08 L1071.55,423.42 L1071.21,421.99 L1070.86,420.78 L1070.51,419.80 L1070.15,419.02 L1069.78,418.45 L1069.40,418.07 L1069.01,417.86Z" fill="#0b9444" stroke="#100e0f" stroke-width="1.7" stroke-linejoin="round"/>
<path d="M1142.00,417.80 L1141.59,417.86 L1141.21,418.07 L1140.83,418.45 L1140.47,419.02 L1140.12,419.80 L1139.78,420.78 L1139.45,421.99 L1139.13,423.42 L1138.83,425.08 L1138.54,426.98 L1138.27,429.12 L1138.02,431.50 L1137.79,434.14 L1137.58,437.04 L1137.39,440.19 L1137.23,443.61 L1137.09,447.29 L1136.99,451.24 L1136.92,455.46 L1136.88,459.96 L1136.88,464.74 L1136.90,469.80 L1139.46,798.50 L1139.51,805.31 L1139.58,811.74 L1139.67,817.80 L1139.78,823.48 L1139.91,828.80 L1140.07,833.76 L1140.25,838.36 L1140.45,842.60 L1140.67,846.50 L1140.91,850.05 L1141.18,853.27 L1141.46,856.15 L1141.76,858.70 L1142.08,860.94 L1142.41,862.86 L1142.76,864.48 L1143.13,865.81 L1143.52,866.85 L1143.93,867.63 L1144.37,868.14 L1144.86,868.42 L1145.50,868.50 L1146.14,868.42 L1146.62,868.14 L1147.05,867.63 L1147.45,866.85 L1147.83,865.81 L1148.18,864.48 L1148.50,862.86 L1148.81,860.94 L1149.09,858.70 L1149.35,856.15 L1149.59,853.27 L1149.80,850.05 L1149.99,846.50 L1150.15,842.60 L1150.29,838.36 L1150.39,833.76 L1150.47,828.80 L1150.52,823.48 L1150.54,817.80 L1150.54,811.74 L1150.51,805.31 L1150.46,798.50 L1147.90,469.80 L1147.85,464.74 L1147.78,459.96 L1147.67,455.46 L1147.53,451.24 L1147.36,447.29 L1147.17,443.61 L1146.96,440.19 L1146.72,437.04 L1146.47,434.14 L1146.19,431.50 L1145.90,429.12 L1145.60,426.98 L1145.28,425.08 L1144.95,423.42 L1144.61,421.99 L1144.27,420.78 L1143.91,419.80 L1143.55,419.02 L1143.18,418.45 L1142.80,418.07 L1142.41,417.86Z" fill="#0b9444" stroke="#100e0f" stroke-width="1.7" stroke-linejoin="round"/>
<path d="M1155.00,545.40 L1154.56,545.46 L1154.15,545.67 L1153.75,546.05 L1153.36,546.62 L1152.99,547.40 L1152.62,548.38 L1152.27,549.59 L1151.93,551.02 L1151.61,552.68 L1151.30,554.58 L1151.01,556.72 L1150.74,559.10 L1150.50,561.74 L1150.27,564.64 L1150.07,567.79 L1149.90,571.21 L1149.76,574.89 L1149.66,578.84 L1149.58,583.06 L1149.55,587.56 L1149.55,592.34 L1149.58,597.40 L1151.45,798.50 L1151.52,805.31 L1151.60,811.74 L1151.70,817.80 L1151.82,823.48 L1151.97,828.80 L1152.14,833.76 L1152.34,838.36 L1152.56,842.60 L1152.80,846.50 L1153.06,850.05 L1153.35,853.27 L1153.65,856.15 L1153.98,858.70 L1154.32,860.94 L1154.68,862.86 L1155.06,864.48 L1155.46,865.81 L1155.88,866.85 L1156.32,867.63 L1156.79,868.14 L1157.31,868.42 L1158.00,868.50 L1158.69,868.42 L1159.20,868.14 L1159.67,867.63 L1160.09,866.85 L1160.49,865.81 L1160.87,864.48 L1161.22,862.86 L1161.54,860.94 L1161.84,858.70 L1162.12,856.15 L1162.37,853.27 L1162.60,850.05 L1162.79,846.50 L1162.96,842.60 L1163.11,838.36 L1163.22,833.76 L1163.30,828.80 L1163.34,823.48 L1163.36,817.80 L1163.35,811.74 L1163.31,805.31 L1163.25,798.50 L1161.38,597.40 L1161.32,592.34 L1161.24,587.56 L1161.12,583.06 L1160.96,578.84 L1160.78,574.89 L1160.58,571.21 L1160.34,567.79 L1160.09,564.64 L1159.81,561.74 L1159.51,559.10 L1159.20,556.72 L1158.87,554.58 L1158.53,552.68 L1158.17,551.02 L1157.81,549.59 L1157.43,548.38 L1157.05,547.40 L1156.66,546.62 L1156.26,546.05 L1155.86,545.67 L1155.44,545.46Z" fill="#2b3990" stroke="#100e0f" stroke-width="1.7" stroke-linejoin="round"/>
<path d="M1106.70,417.80 L1106.29,417.86 L1105.91,418.07 L1105.53,418.45 L1105.17,419.02 L1104.82,419.80 L1104.48,420.78 L1104.15,421.99 L1103.84,423.42 L1103.53,425.08 L1103.25,426.98 L1102.97,429.12 L1102.72,431.50 L1102.49,434.14 L1102.28,437.04 L1102.09,440.19 L1101.93,443.61 L1101.80,447.29 L1101.70,451.24 L1101.63,455.46 L1101.59,459.96 L1101.59,464.74 L1101.62,469.80 L1104.24,798.50 L1104.30,805.31 L1104.37,811.74 L1104.46,817.80 L1104.57,823.48 L1104.70,828.80 L1104.86,833.76 L1105.04,838.36 L1105.24,842.60 L1105.47,846.50 L1105.71,850.05 L1105.97,853.27 L1106.26,856.15 L1106.56,858.70 L1106.87,860.94 L1107.21,862.86 L1107.56,864.48 L1107.93,865.81 L1108.32,866.85 L1108.73,867.63 L1109.17,868.14 L1109.66,868.42 L1110.30,868.50 L1110.94,868.42 L1111.42,868.14 L1111.85,867.63 L1112.25,866.85 L1112.63,865.81 L1112.97,864.48 L1113.30,862.86 L1113.61,860.94 L1113.89,858.70 L1114.15,856.15 L1114.38,853.27 L1114.60,850.05 L1114.78,846.50 L1114.94,842.60 L1115.08,838.36 L1115.19,833.76 L1115.26,828.80 L1115.31,823.48 L1115.33,817.80 L1115.32,811.74 L1115.29,805.31 L1115.24,798.50 L1112.62,469.80 L1112.56,464.74 L1112.48,459.96 L1112.38,455.46 L1112.24,451.24 L1112.07,447.29 L1111.88,443.61 L1111.66,440.19 L1111.43,437.04 L1111.17,434.14 L1110.90,431.50 L1110.61,429.12 L1110.30,426.98 L1109.98,425.08 L1109.65,423.42 L1109.31,421.99 L1108.97,420.78 L1108.61,419.80 L1108.25,419.02 L1107.88,418.45 L1107.50,418.07 L1107.11,417.86Z" fill="#f15a29" stroke="#100e0f" stroke-width="1.7" stroke-linejoin="round"/>
<path d="M1083.2,190 C1083,179 1089,173.3 1098.5,173.3 C1108,173.3 1113.8,179 1114.2,190 C1115.6,222 1117,255 1118,280 L1120.7,328 C1121.2,338 1115.5,344.2 1106.2,344.2 C1097,344.2 1091.5,338 1091,328 L1088.8,280 C1087.5,250 1084.5,220 1083.2,190 Z" fill="#d1d3d4" stroke="#1a1718" stroke-width="2.0"/>
<path d="M1090.6,180 C1090,177.6 1091,176.6 1093.5,176.4 L1099.5,176.2 C1101.7,176.2 1102.4,177 1102.7,179.3 L1104.4,195 C1104.6,197 1103.6,197.9 1101.4,197.9 L1096.5,197.9 C1094.2,197.9 1093.4,197 1093.1,195 Z" fill="#515152" stroke="#1c1b1c" stroke-width="2.0" stroke-linejoin="round"/>
<line x1="1261" y1="232.7" x2="1329.3" y2="230" stroke="#0f0d0e" stroke-width="14.0" stroke-linecap="round"/><line x1="1261" y1="232.7" x2="1329.3" y2="230" stroke="#f78f19" stroke-width="7.5" stroke-linecap="round"/>
<line x1="1261" y1="285" x2="1329.3" y2="282.3" stroke="#0f0d0e" stroke-width="14.0" stroke-linecap="round"/><line x1="1261" y1="285" x2="1329.3" y2="282.3" stroke="#e6e7e8" stroke-width="7.5" stroke-linecap="round"/>
<line x1="1261" y1="322" x2="1329.3" y2="319" stroke="#0f0d0e" stroke-width="14.0" stroke-linecap="round"/><line x1="1261" y1="322" x2="1329.3" y2="319" stroke="#515152" stroke-width="7.5" stroke-linecap="round"/>
<line x1="1265" y1="464.5" x2="1333.4" y2="461.7" stroke="#0f0d0e" stroke-width="14.0" stroke-linecap="round"/><line x1="1265" y1="464.5" x2="1333.4" y2="461.7" stroke="#f15a29" stroke-width="7.5" stroke-linecap="round"/>
<line x1="1265" y1="568.3" x2="1333.4" y2="565.3" stroke="#0f0d0e" stroke-width="14.0" stroke-linecap="round"/><line x1="1265" y1="568.3" x2="1333.4" y2="565.3" stroke="#0b9444" stroke-width="7.5" stroke-linecap="round"/>
<line x1="1265" y1="658" x2="1333.4" y2="655" stroke="#0f0d0e" stroke-width="14.0" stroke-linecap="round"/><line x1="1265" y1="658" x2="1333.4" y2="655" stroke="#2b3990" stroke-width="7.5" stroke-linecap="round"/>
<line x1="1265" y1="748.4" x2="1333.4" y2="745.5" stroke="#0f0d0e" stroke-width="14.0" stroke-linecap="round"/><line x1="1265" y1="748.4" x2="1333.4" y2="745.5" stroke="#18abec" stroke-width="7.5" stroke-linecap="round"/>
<line x1="1421.2" y1="273.3" x2="1421.2" y2="333" stroke="#0a0a0a" stroke-width="2.8"/>
<text x="905" y="30" fill="#000" stroke="#000" stroke-width="0.2" font-weight="700" font-size="40">B</text>
<text x="974" y="76" fill="#000" stroke="#000" stroke-width="0.2" font-weight="700" font-size="34">Kif9 Knockdown</text>
<text x="1025" y="131.6" fill="#000" stroke="#000" stroke-width="0.2" font-weight="400" font-size="34">Distal Tip</text>
<text x="1206.1" y="197" fill="#000" stroke="#000" stroke-width="0.2" font-weight="400" font-size="34">Distal Tip Components:</text>
<text x="1343.2" y="242" fill="#f78f19" stroke="#f78f19" stroke-width="0.2" font-weight="400" font-size="34">Spef1</text>
<text x="1441.7" y="242.5" fill="#000" stroke="#000" stroke-width="0.2" font-weight="400" font-size="34">Complete loss</text>
<text x="1343.2" y="296" fill="#0a0a0a" stroke="#0a0a0a" stroke-width="0.2" font-weight="400" font-size="34">Eb3</text>
<text x="1343.2" y="335" fill="#3a3a3b" stroke="#3a3a3b" stroke-width="0.2" font-weight="400" font-size="34">Eb1</text>
<text x="1442.2" y="289.5" fill="#000" stroke="#000" stroke-width="0.2" font-weight="400" font-size="34">Remain</text>
<text x="1442" y="331" fill="#000" stroke="#000" stroke-width="0.2" font-weight="400" font-size="34">unaffected</text>
<text x="1353" y="456" fill="#ea5a2a" stroke="#ea5a2a" stroke-width="0.2" font-weight="400" font-size="34">Central Pair Proteins</text>
<text x="1353.6" y="497.4" fill="#ea5a2a" stroke="#ea5a2a" stroke-width="0.2" font-weight="400" font-size="34">58-61% of axoneme</text>
<text x="1359" y="555.4" fill="#0b9444" stroke="#0b9444" stroke-width="0.2" font-weight="400" font-size="34">Radial Spokes</text>
<text x="1360.2" y="596.4" fill="#0b9444" stroke="#0b9444" stroke-width="0.2" font-weight="400" font-size="34">75-58% of axoneme</text>
<text x="1357.6" y="650" fill="#272f8b" stroke="#272f8b" stroke-width="0.2" font-weight="400" font-size="34">Inner Dynein Arms</text>
<text x="1356.7" y="691" fill="#272f8b" stroke="#272f8b" stroke-width="0.2" font-weight="400" font-size="34">~ 41% of axoneme</text>
<text x="1361" y="738.6" fill="#2a9fd8" stroke="#2a9fd8" stroke-width="0.2" font-weight="400" font-size="34">Outer Dynein Arms</text>
<text x="1361" y="779.6" fill="#2a9fd8" stroke="#2a9fd8" stroke-width="0.2" font-weight="400" font-size="34">~ 50% of axoneme</text>
<text x="1000.6" y="915.7" fill="#000" stroke="#000" stroke-width="0.2" font-weight="400" font-size="34">Proximal Base</text>
<rect x="538.64" y="137.45" width="6.75" height="4.05" fill="#fff"/>
<rect x="548.64" y="137.45" width="6.46" height="4.05" fill="#fff"/>
<rect x="506.28" y="230.45" width="6.75" height="4.05" fill="#fff"/>
<rect x="516.28" y="230.45" width="6.46" height="4.05" fill="#fff"/>
<rect x="1414.84" y="238.45" width="6.75" height="4.05" fill="#fff"/>
<rect x="1424.84" y="238.45" width="6.46" height="4.05" fill="#fff"/>
<rect x="1386.48" y="331.45" width="6.75" height="4.05" fill="#fff"/>
<rect x="1396.48" y="331.45" width="6.46" height="4.05" fill="#fff"/>
<rect x="1423.35" y="493.85" width="6.75" height="4.05" fill="#fff"/>
<rect x="1433.35" y="493.85" width="6.46" height="4.05" fill="#fff"/>
<rect x="1406.60" y="687.45" width="6.75" height="4.05" fill="#fff"/>
<rect x="1416.60" y="687.45" width="6.46" height="4.05" fill="#fff"/>
</g>
</svg>
</body></html>
